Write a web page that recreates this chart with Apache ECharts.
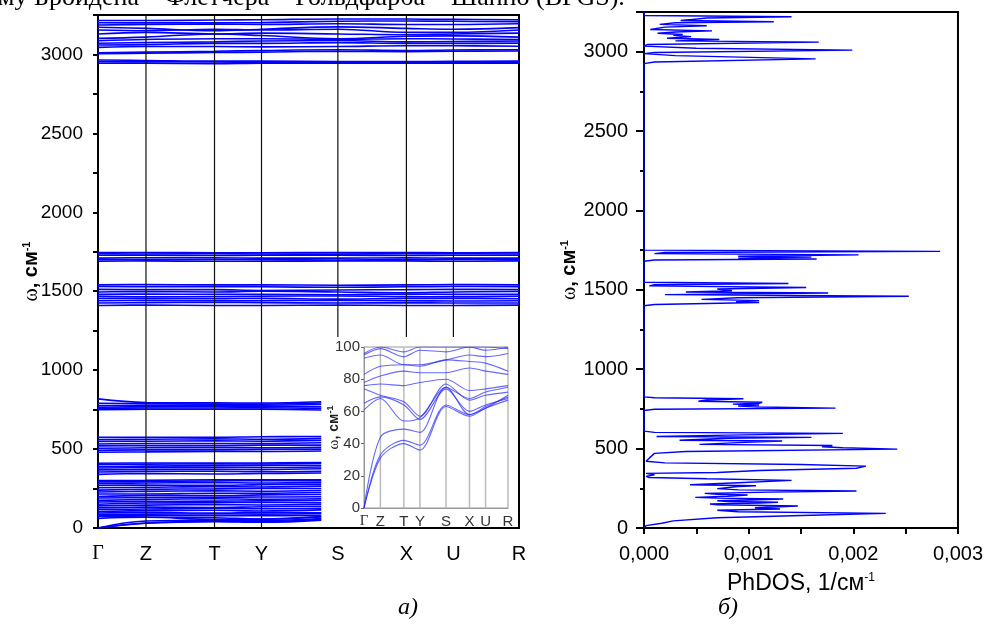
<!DOCTYPE html>
<html><head><meta charset="utf-8">
<script src="https://cdn.jsdelivr.net/npm/echarts@6/dist/echarts.min.js"></script>
<style>html,body{margin:0;padding:0;background:#fff}#c{width:986px;height:633px}</style>
</head><body><div id="c"></div>
<script>
// ---------- data ----------
const kLabels = ['Γ','Z','T','Y','S','X','U','R'];
const kPos = [0, 49, 119, 167, 245, 315, 363, 430];
const lowPath = [0, 49, 119, 167, 228];           // Γ Z T Y (end of drawn low bands)
const insetCutValue = 1210;                        // S, X, U lines start above inset

const bandsLow = [
  [0,30,40,36,50],[0,44,49,47,60],[0,32,43,40,55],
  [61,68,54,56,70],[75,70,65,57,72],[78,80,78,78,80],[85,88,89,88,92],[95,99,94,98,97],
  [105,110,112,108,115],[118,120,125,122,125],[128,132,130,135,138],[140,145,148,146,150],
  [150,158,160,162,160],[165,168,170,172,175],[175,180,185,182,185],[190,192,195,196,198],
  [200,205,205,210,212],[215,215,220,220,225],[228,232,235,233,238],[240,245,248,250,250],
  [255,258,262,260,265],[270,272,270,275,278],[282,285,288,285,290],[292,295,298,300,300],
  [300,302,305,305,306],
  [340,345,342,345,348],[355,358,360,356,360],[368,370,372,370,375],[380,382,385,383,386],
  [390,392,395,397,398],[402,404,406,405,410],[410,412,412,412,414],
  [480,482,485,485,488],[492,495,495,498,500],[505,508,510,508,512],[520,522,522,525,525],
  [532,535,535,535,540],[548,550,552,550,555],[560,562,565,562,568],[575,575,575,578,580],
  [818,795,793,792,800],[790,788,785,785,792],[775,778,778,778,782],[765,768,770,770,768],
  [755,760,760,762,758],[750,752,752,752,748]
];
const bandsHigh = [
  [1540,1542,1540,1540,1538,1540,1542,1540],[1530,1528,1530,1528,1525,1528,1530,1528],
  [1512,1510,1510,1505,1508,1510,1512,1510],[1495,1498,1495,1500,1495,1490,1495,1498],
  [1480,1482,1480,1480,1478,1482,1480,1480],[1468,1465,1465,1468,1470,1466,1465,1468],
  [1455,1455,1452,1455,1450,1455,1455,1452],[1440,1442,1440,1440,1442,1440,1438,1440],
  [1425,1428,1430,1428,1425,1428,1425,1425],[1410,1412,1410,1410,1412,1410,1410,1412],
  [1745,1745,1744,1744,1745,1745,1744,1745],[1738,1736,1738,1736,1735,1738,1738,1736],
  [1728,1728,1726,1728,1728,1726,1728,1728],[1710,1712,1712,1710,1710,1712,1710,1710],
  [1700,1700,1702,1700,1698,1700,1702,1700],[1690,1692,1690,1690,1692,1692,1690,1692],
  [3215,3215,3218,3220,3225,3225,3222,3220],[3201,3200,3200,3202,3210,3212,3210,3208],
  [3187,3190,3192,3190,3195,3190,3190,3195],[3172,3165,3150,3160,3175,3165,3160,3170],
  [3155,3150,3160,3155,3160,3140,3140,3155],[3130,3140,3130,3135,3130,3125,3130,3135],
  [3102,3110,3130,3120,3100,3115,3118,3110],[3087,3095,3100,3100,3095,3100,3098,3095],
  [3071,3075,3080,3085,3088,3080,3082,3085],[3060,3062,3070,3070,3075,3070,3070,3072],
  [3045,3050,3050,3048,3050,3055,3055,3052],[3011,3015,3020,3025,3030,3025,3028,3030],
  [3005,3008,3012,3015,3020,3018,3020,3022],[2965,2962,2958,2958,2955,2955,2957,2958],
  [2954,2955,2952,2950,2950,2950,2950,2950],[2944,2945,2942,2945,2945,2944,2945,2945]
];
const insetBands = [
  [0,31,40,36,63,57,62,67],[0,44,49,47,75,68,72,75],[0,33,42,39,64,58,63,69],
  [61,68,54,56,75,58,62,70],[65,69,64,55,74,60,64,68],[74,70,66,57,77,67,70,72],
  [76,77,76,78,80,73,74,76],[78,82,85,84,84,87,85,83],[83,88,89,88,92,91,90,85],
  [93,95,89,89,92,95,94,96],[95,99,94,98,97,100,98,100],[96,100,97,100,100,100,100,99]
];
const phFreq = [0,15,30,45,65,80,92,102,112,120,128,139,146,151,157,162,167,172,178,183,188,193,200,208,213,218,226,233,240,248,256,261,266,272,285,300,310,318,325,335,344,350,362,376,390,400,410,420,440,470,482,497,505,512,520,527,538,548,553,565,571,576,585,596,602,610,
  740,748,755,762,768,775,780,786,792,798,806,814,820,826,
  1400,1408,1420,1426,1432,1440,1450,1460,1470,1480,1486,1494,1505,1515,1525,1532,1540,1548,
  1680,1688,1694,1700,1706,1712,1720,1728,1735,1742,1750,
  2925,2935,2955,2975,2988,2995,3010,3022,3035,3045,3060,3068,3077,3085,3095,3103,3108,3116,3124,3131,3140,3155,3163,3172,3182,3189,3196,3212,3220,3228,3250];
const phDos = [0,0.00002,0.00017,0.00028,0.0007,0.0016,0.00231,0.0009,0.0007,0.0013,0.00106,0.00147,0.0007,0.00063,0.0011,0.00128,0.0008,0.0007,0.0011,0.00133,0.0007,0.00049,0.0008,0.00099,0.0007,0.00058,0.0012,0.00203,0.0009,0.0007,0.0007,0.0009,0.00107,0.00044,0.0009,0.00141,0.0006,0.00005,0.00002,0.0001,0.00002,0.0007,0.0011,0.00203,0.00212,0.0015,0.0002,0.00002,0.00005,0.0001,0.0004,0.00242,0.0019,0.0017,0.0018,0.00053,0.0009,0.00132,0.00034,0.0008,0.0016,0.00012,0.0008,0.0019,0.0001,0,
  0,0.0001,0.00183,0.0011,0.0009,0.0011,0.00085,0.0011,0.00113,0.00052,0.0006,0.00095,0.0001,0,
  0,0.0001,0.0011,0.00088,0.0011,0.00055,0.0009,0.00253,0.0002,0.00176,0.0004,0.00084,0.0007,0.00155,0.00005,0.0001,0.00138,0,
  0,0.0001,0.00165,0.0009,0.0016,0.0009,0.00205,0.0001,0.0002,0.00283,0,
  0,0.0001,0.00164,0.0003,0,0.0001,0.00199,0.0005,0,0.00003,0.00167,0.0003,0.00072,0.00022,0.00045,0.00028,0.00037,0.00013,0.0003,0.00065,0.00006,0.0002,0.0006,0.00015,0.0003,0.00124,0.00035,0.0006,0.00141,0,0];

// ---------- styles ----------
const BLUE = '#0000ff';
const SANS = '"Liberation Sans", Arial, sans-serif';
const SERIF = '"Liberation Serif", "Times New Roman", serif';

const series = [];
bandsLow.forEach(b => series.push({type:'line', xAxisIndex:0, yAxisIndex:0, smooth:0.4, showSymbol:false, silent:true,
  data: b.map((v,i)=>[lowPath[i], v]), lineStyle:{color:BLUE, width:1.6}}));
bandsHigh.forEach(b => series.push({type:'line', xAxisIndex:0, yAxisIndex:0, smooth:0.4, showSymbol:false, silent:true,
  data: b.map((v,i)=>[kPos[i], v]), lineStyle:{color:BLUE, width:1.6}}));
for (let i = 1; i < kPos.length - 1; i++) {
  series.push({type:'line', xAxisIndex:0, yAxisIndex:0, showSymbol:false, silent:true, z:3,
    data: [[kPos[i], i >= 4 ? insetCutValue : 0], [kPos[i], 3250]], lineStyle:{color:'#111', width:1.2}});
  series.push({type:'line', xAxisIndex:1, yAxisIndex:1, showSymbol:false, silent:true, z:1,
    data: [[kPos[i], 0], [kPos[i], 100]], lineStyle:{color:'#bbb', width:1.5}});
}
insetBands.forEach(b => series.push({type:'line', xAxisIndex:1, yAxisIndex:1, smooth:0.3, showSymbol:false, silent:true,
  data: b.map((v,i)=>[kPos[i], v]), lineStyle:{color:'rgba(40,40,255,0.7)', width:1.1}}));
series.push({type:'line', xAxisIndex:2, yAxisIndex:2, showSymbol:false, silent:true,
  data: phFreq.map((f,i)=>[phDos[i], f]), lineStyle:{color:BLUE, width:1.4}});

const yName = {
  w:{fontFamily:SERIF, fontSize:20, color:'#000'},
  t:{fontFamily:SANS, fontSize:20, fontWeight:'bold', color:'#000'},
  s:{fontFamily:SANS, fontSize:11, fontWeight:'bold', color:'#000', verticalAlign:'top', padding:[0,0,10,0]}
};
const plain = v => String(v);

const option = {
  animation:false,
  backgroundColor:'#fff',
  grid:[
    {left:98, top:15, width:421, height:513, show:true, borderColor:'#000', borderWidth:2, backgroundColor:'transparent'},
    {left:364, top:347, width:144, height:161, show:true, borderColor:'#999', borderWidth:1, backgroundColor:'transparent'},
    {left:644, top:12, width:315, height:516, show:true, borderColor:'#000', borderWidth:2, backgroundColor:'transparent'}
  ],
  xAxis:[
    {type:'value', gridIndex:0, min:0, max:430,
      axisLine:{lineStyle:{color:'#000', width:2}}, axisTick:{show:false}, splitLine:{show:false},
      axisLabel:{customValues:kPos, margin:16, fontSize:20, fontFamily:SANS, color:'#000',
        formatter:v => { const i = kPos.indexOf(v); return i === 0 ? '{g|Γ}' : kLabels[i]; },
        rich:{g:{fontFamily:SERIF, fontSize:20, color:'#000'}}}},
    {type:'value', gridIndex:1, min:0, max:430,
      axisLine:{lineStyle:{color:'#999', width:1}}, axisTick:{show:false}, splitLine:{show:false},
      axisLabel:{customValues:kPos, margin:6, fontSize:15, fontFamily:SANS, color:'#333',
        formatter:v => { const i = kPos.indexOf(v); return i === 0 ? '{g|Γ}' : kLabels[i]; },
        rich:{g:{fontFamily:SERIF, fontSize:15, color:'#333'}}}},
    {type:'value', gridIndex:2, min:0, max:0.003, interval:0.001,
      axisLine:{lineStyle:{color:'#000', width:2}},
      axisTick:{show:true, inside:false, length:6, lineStyle:{width:2, color:'#000'}},
      minorTick:{show:true, splitNumber:2, length:6, lineStyle:{width:2, color:'#000'}},
      splitLine:{show:false},
      axisLabel:{margin:16, fontSize:20, fontFamily:SANS, color:'#000',
        formatter:v => v.toFixed(3).replace('.', ',')},
      name:'{t|PhDOS, 1/см}{s|-1}', nameLocation:'middle', nameGap:44, nameMoveOverlap:false,
      nameTextStyle:{rich:{t:{fontFamily:SANS, fontSize:23, color:'#000'},
        s:{fontFamily:SANS, fontSize:12, color:'#000', verticalAlign:'top', padding:[0,0,12,0]}}}}
  ],
  yAxis:[
    {type:'value', gridIndex:0, min:0, max:3250, interval:500,
      axisLine:{lineStyle:{color:'#000', width:2}},
      axisTick:{show:true, length:5, lineStyle:{width:2, color:'#000'}},
      minorTick:{show:true, splitNumber:2, length:5, lineStyle:{width:2, color:'#000'}},
      splitLine:{show:false},
      axisLabel:{margin:15, fontSize:19, fontFamily:SANS, color:'#000', showMaxLabel:false, formatter:plain},
      name:'{w|ω}{t|, см}{s|-1}', nameLocation:'middle', nameRotate:90, nameGap:56, nameMoveOverlap:false,
      nameTextStyle:{rich:yName}},
    {type:'value', gridIndex:1, min:0, max:100, interval:20,
      axisLine:{lineStyle:{color:'#999', width:1}},
      axisTick:{show:true, length:3, lineStyle:{color:'#666'}},
      splitLine:{show:false},
      axisLabel:{margin:4, fontSize:15, fontFamily:SANS, color:'#333', formatter:plain},
      name:'{w|ω}{t|, см}{s|-1}', nameLocation:'middle', nameRotate:90, nameGap:22, nameMoveOverlap:false,
      nameTextStyle:{rich:{
        w:{fontFamily:SERIF, fontSize:15, color:'#222'},
        t:{fontFamily:SANS, fontSize:14, fontWeight:'bold', color:'#222'},
        s:{fontFamily:SANS, fontSize:9, fontWeight:'bold', color:'#222', verticalAlign:'top', padding:[0,0,7,0]}}}},
    {type:'value', gridIndex:2, min:0, max:3250, interval:500,
      axisLine:{lineStyle:{color:'#000', width:2}},
      axisTick:{show:true, length:8, lineStyle:{width:2, color:'#000'}},
      minorTick:{show:true, splitNumber:2, length:4, lineStyle:{width:2, color:'#000'}},
      splitLine:{show:false},
      axisLabel:{margin:16, fontSize:20, fontFamily:SANS, color:'#000', showMaxLabel:false, formatter:plain},
      name:'{w|ω}{t|, см}{s|-1}', nameLocation:'middle', nameRotate:90, nameGap:64, nameMoveOverlap:false,
      nameTextStyle:{rich:yName}}
  ],
  graphic:[
    {type:'text', left:-2, top:-15, style:{text:'му Бройдена – Флетчера – Гольдфарба – Шанно (BFGS).', font:'26px ' + SERIF, fill:'#000'}},
    {type:'text', left:398, top:596, style:{text:'а)', font:'italic 24px ' + SERIF, fill:'#000'}},
    {type:'text', left:718, top:596, style:{text:'б)', font:'italic 24px ' + SERIF, fill:'#000'}}
  ],
  series
};
const chart = echarts.init(document.getElementById('c'), null, {renderer:'canvas'});
chart.setOption(option);
</script>
</body></html>
